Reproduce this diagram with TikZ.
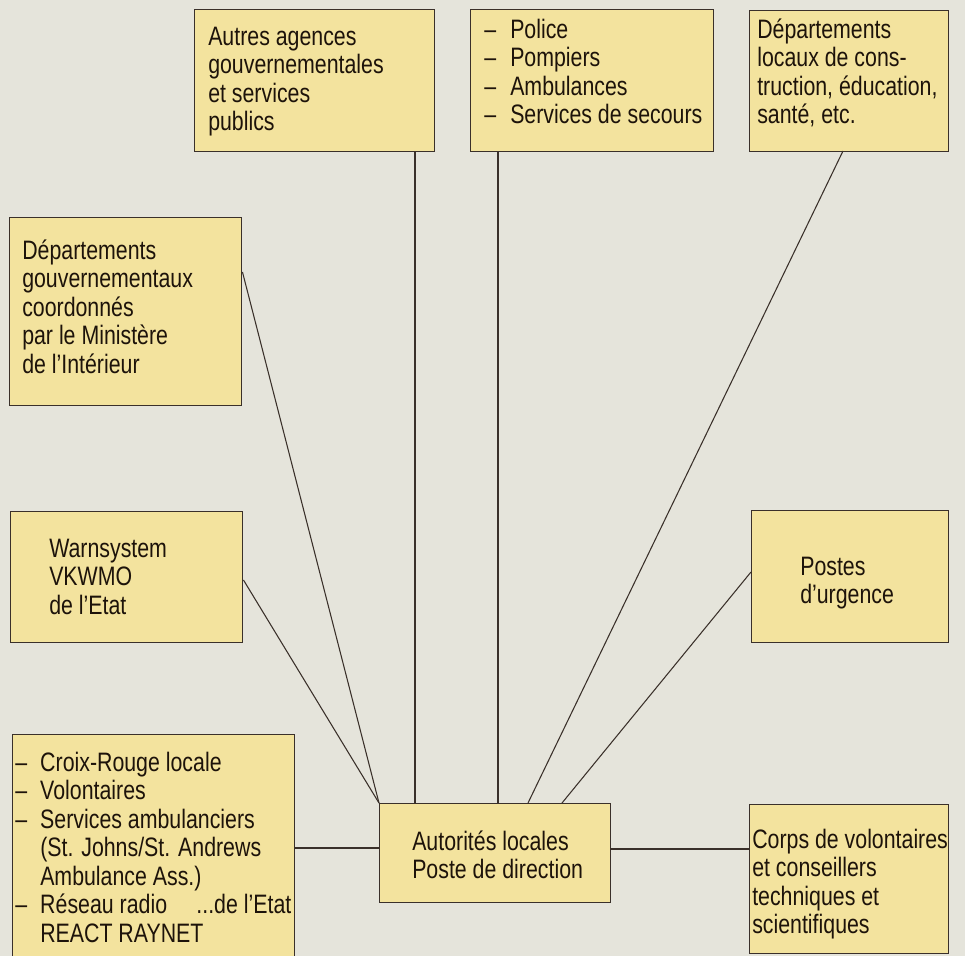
\documentclass[tikz,border=0pt]{standalone}
\usepackage{fontspec}
\setmainfont[FakeStretch=0.80]{Liberation Sans}
\definecolor{bg}{HTML}{E5E4DB}
\definecolor{boxfill}{HTML}{F3E39E}
\definecolor{ink}{HTML}{3A302A}
\begin{document}
\begin{tikzpicture}[x=0.75pt,y=-0.75pt,
  box/.style={draw=ink, line width=1.1pt, fill=boxfill, inner sep=0pt, anchor=north west},
  txt/.style={anchor=north west, inner sep=0pt, align=left, text=black!85!brown, font=\fontsize{20}{21.4}\selectfont},
  link/.style={draw=ink, line width=0.8pt}]
\fill[bg] (0,0) rectangle (965,956);
\useasboundingbox (0,0) rectangle (965,956);
% boxes
\node[box, minimum width=240*0.75pt, minimum height=142*0.75pt] (a) at (194,9) {};
\node[box, minimum width=243*0.75pt, minimum height=142*0.75pt] (b) at (470,9) {};
\node[box, minimum width=199*0.75pt, minimum height=141*0.75pt] (c) at (749,10) {};
\node[box, minimum width=232*0.75pt, minimum height=188*0.75pt] (d) at (9,217) {};
\node[box, minimum width=232*0.75pt, minimum height=131*0.75pt] (e) at (10,511) {};
\node[box, minimum width=282*0.75pt, minimum height=240*0.75pt] (f) at (12,734) {};
\node[box, minimum width=231*0.75pt, minimum height=99*0.75pt] (g) at (379,803) {};
\node[box, minimum width=197*0.75pt, minimum height=132*0.75pt] (h) at (751,510) {};
\node[box, minimum width=199*0.75pt, minimum height=149*0.75pt] (i) at (749,804) {};
% texts
\node[txt] (ta) at (208,25) {\strut Autres agences\\gouvernementales\\et services\\publics};
\node[txt] (tb) at (484,18) {\strut\makebox[19.5pt][l]{–}Police\\\makebox[19.5pt][l]{–}Pompiers\\\makebox[19.5pt][l]{–}Ambulances\\\makebox[19.5pt][l]{–}Services de secours};
\node[txt] (tc) at (757,18) {\strut Départements\\locaux de cons-\\truction, éducation,\\santé, etc.};
\node[txt] (td) at (22,239) {\strut Départements\\gouvernementaux\\coordonnés\\par le Ministère\\de l’Intérieur};
\node[txt] (te) at (49,537) {\strut Warnsystem\\VKWMO\\de l’Etat};
\node[txt] (tf) at (15,751) {\strut\makebox[18.75pt][l]{–}Croix-Rouge locale\\\makebox[18.75pt][l]{–}Volontaires\\\makebox[18.75pt][l]{–}Services ambulanciers\\\hspace*{18.75pt}(St. Johns/St. Andrews\\\hspace*{18.75pt}Ambulance Ass.)\\\makebox[18.75pt][l]{–}Réseau radio\hspace{22pt}...de l’Etat\\\hspace*{18.75pt}REACT RAYNET};
\node[txt] (tg) at (412,830) {\strut Autorités locales\\Poste de direction};
\node[txt] (th) at (800,555) {\strut Postes\\d’urgence};
\node[txt] (ti) at (752,828) {\strut Corps de volontaires\\et conseillers\\techniques et\\scientifiques};
% connectors
\coordinate (ga) at (415,803);
\coordinate (gb) at (498,803);
\coordinate (gc) at (528,803);
\coordinate (gh) at (562,803);
\draw[link] (a.south -| ga) -- (ga);
\draw[link] (b.south -| gb) -- (gb);
\draw[link] (843,151) -- (gc);
\draw[link] (d.east |- 0,272) -- (g.north west);
\draw[link] (e.east |- 0,580) -- (g.north west);
\draw[link] (f.east |- 0,848) -- (g.west |- 0,848);
\draw[link] (h.west |- 0,572) -- (gh);
\draw[link] (g.east |- 0,849) -- (i.west |- 0,849);
\end{tikzpicture}
\end{document}
